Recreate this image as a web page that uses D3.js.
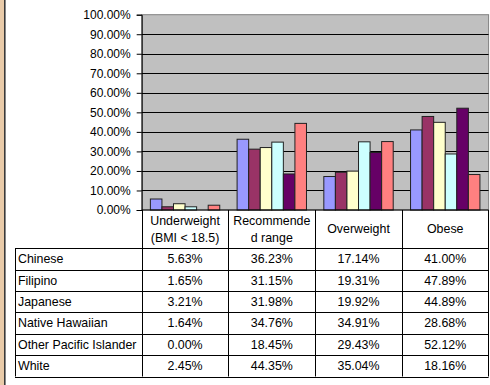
<!DOCTYPE html>
<html>
<head>
<meta charset="utf-8">
<script src="https://cdn.jsdelivr.net/npm/d3@7"></script>
<style>
  html, body { margin: 0; padding: 0; background: #fff; }
  svg { display: block; font-family: "Liberation Sans", Arial, sans-serif; }
</style>
</head>
<body>
<svg id="chart" width="490" height="385"></svg>
<script>
// BMI categories (column headers, each may wrap onto two lines)
const categories = ["Underweight (BMI < 18.5)", "Recommended range", "Overweight", "Obese"];
const categoryLines = [["Underweight", "(BMI < 18.5)"], ["Recommende", "d range"], ["Overweight"], ["Obese"]];

// Ethnic groups (series)
const groups = ["Chinese", "Filipino", "Japanese", "Native Hawaiian", "Other Pacific Islander", "White"];
const colors = ["#9999FF", "#993366", "#FFFFCC", "#CCFFFF", "#660066", "#FF8080"];

// Percentages per group, in category order
const chinese        = [5.63, 36.23, 17.14, 41.00];
const filipino       = [1.65, 31.15, 19.31, 47.89];
const japanese       = [3.21, 31.98, 19.92, 44.89];
const nativeHawaiian = [1.64, 34.76, 34.91, 28.68];
const otherPacific   = [0.00, 18.45, 29.43, 52.12];
const white          = [2.45, 44.35, 35.04, 18.16];
const seriesValues = [chinese, filipino, japanese, nativeHawaiian, otherPacific, white];

const yTicks = [0, 10, 20, 30, 40, 50, 60, 70, 80, 90, 100];

const svg = d3.select("#chart");

// Left decorative frame strip
svg.append("rect").attr("x", 0).attr("y", 0).attr("width", 4).attr("height", 385).attr("fill", "#E9CBA9");
svg.append("rect").attr("x", 4).attr("y", 0).attr("width", 1.6).attr("height", 385).attr("fill", "#3a3a3a");

const plotLeft = 141.7, plotRight = 488.6, plotTop = 14.7, plotBottom = 210;
const tableLeft = 15, headerBottom = 248.3, tableBottom = 376.5;

const x0 = d3.scaleBand().domain(categories).range([plotLeft, plotRight]).padding(0);
const x1 = d3.scaleBand().domain(groups).range([0, x0.bandwidth()]).paddingInner(0).paddingOuter(0.75);
const y = d3.scaleLinear().domain([0, 100]).range([plotBottom, plotTop]);

// Plot background
svg.append("rect")
  .attr("x", plotLeft).attr("y", plotTop)
  .attr("width", plotRight - plotLeft).attr("height", plotBottom - plotTop)
  .attr("fill", "#C0C0C0").attr("stroke", "#808080").attr("stroke-width", 1);

// Gridlines
svg.append("g").selectAll("line")
  .data(yTicks.filter(d => d > 0 && d < 100))
  .join("line")
  .attr("x1", plotLeft).attr("x2", plotRight)
  .attr("y1", d => Math.round(y(d)) + 0.5).attr("y2", d => Math.round(y(d)) + 0.5)
  .attr("stroke", "#000").attr("stroke-width", 1);

// Y axis
const yAxis = d3.axisLeft(y).tickValues(yTicks).tickSize(5).tickPadding(6)
  .tickFormat(d => d.toFixed(2) + "%");
const gy = svg.append("g").attr("transform", `translate(${plotLeft},0)`).call(yAxis);
gy.select(".domain").attr("stroke", "#000");
gy.selectAll(".tick line").attr("stroke", "#000");
gy.selectAll(".tick text").attr("font-size", 12).attr("fill", "#000")
  .attr("font-family", "'Liberation Sans', Arial, sans-serif");

// Bars
const catGroups = svg.append("g").selectAll("g")
  .data(categories)
  .join("g")
  .attr("transform", d => `translate(${x0(d)},0)`);

catGroups.selectAll("rect")
  .data((c, ci) => groups.map((g, gi) => ({ group: g, value: seriesValues[gi][ci], color: colors[gi] })))
  .join("rect")
  .attr("x", d => x1(d.group))
  .attr("y", d => y(d.value))
  .attr("width", x1.bandwidth())
  .attr("height", d => y(0) - y(d.value))
  .attr("fill", d => d.color)
  .attr("stroke", d => d.value > 0 ? "#222" : "none")
  .attr("stroke-width", 1);

// X axis baseline
svg.append("line")
  .attr("x1", plotLeft).attr("x2", plotRight)
  .attr("y1", plotBottom).attr("y2", plotBottom)
  .attr("stroke", "#000");

// Data table
const table = svg.append("g").attr("font-size", 12.4).attr("fill", "#000");
const rowY = d3.scaleBand().domain(groups).range([headerBottom, tableBottom]);

// Header text
categoryLines.forEach((lines, ci) => {
  const cx = x0(categories[ci]) + x0.bandwidth() / 2;
  const midY = (plotBottom + headerBottom) / 2;
  lines.forEach((line, li) => {
    table.append("text")
      .attr("x", cx)
      .attr("y", midY + (li - (lines.length - 1) / 2) * 16.5)
      .attr("dy", "0.35em")
      .attr("text-anchor", "middle")
      .text(line);
  });
});

// Row labels and values
groups.forEach((g, gi) => {
  const cy = rowY(g) + rowY.bandwidth() / 2;
  table.append("text").attr("x", tableLeft + 3).attr("y", cy).attr("dy", "0.35em").text(g);
  categories.forEach((c, ci) => {
    table.append("text")
      .attr("x", x0(c) + x0.bandwidth() / 2)
      .attr("y", cy).attr("dy", "0.35em")
      .attr("text-anchor", "middle")
      .text(seriesValues[gi][ci].toFixed(2) + "%");
  });
});

// Table grid lines
const lines = svg.append("g").attr("stroke", "#000").attr("stroke-width", 1);
// horizontal row separators
rowY.domain().forEach(g => {
  lines.append("line").attr("x1", tableLeft).attr("x2", plotRight)
    .attr("y1", Math.round(rowY(g)) + 0.5).attr("y2", Math.round(rowY(g)) + 0.5);
});
lines.append("line").attr("x1", tableLeft).attr("x2", plotRight)
  .attr("y1", Math.round(tableBottom) + 0.5).attr("y2", Math.round(tableBottom) + 0.5);
// vertical column separators
lines.append("line").attr("x1", tableLeft + 0.5).attr("x2", tableLeft + 0.5)
  .attr("y1", headerBottom).attr("y2", tableBottom);
categories.forEach(c => {
  const xx = Math.round(x0(c)) + 0.5;
  lines.append("line").attr("x1", xx).attr("x2", xx).attr("y1", plotBottom).attr("y2", tableBottom);
});
lines.append("line").attr("x1", Math.round(plotRight) - 0.5).attr("x2", Math.round(plotRight) - 0.5)
  .attr("y1", plotBottom).attr("y2", tableBottom);
</script>
</body>
</html>
